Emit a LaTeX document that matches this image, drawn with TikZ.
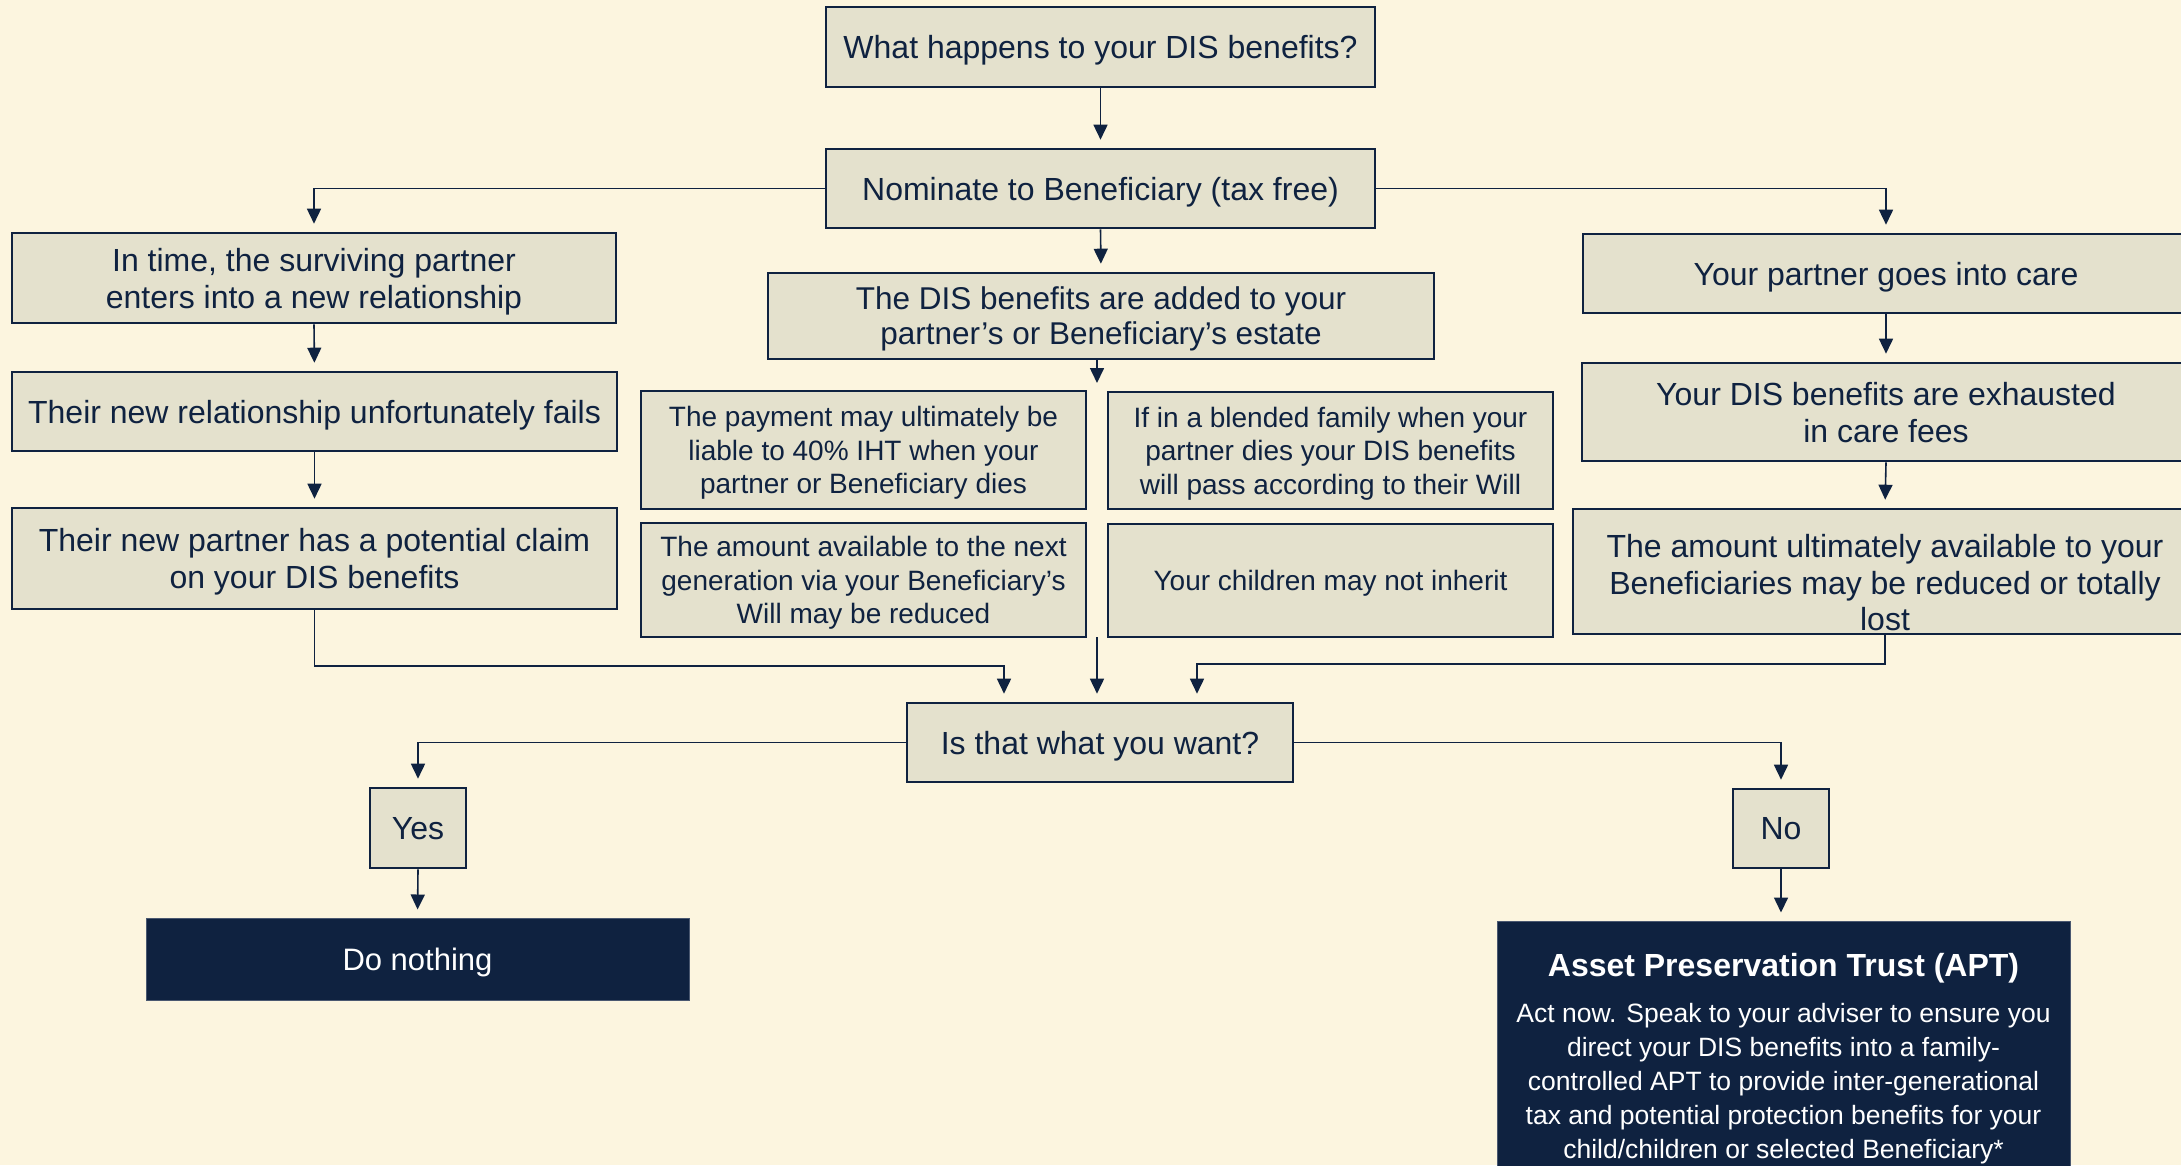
\documentclass[tikz,border=0pt]{standalone}
\usepackage{fontspec}
\setmainfont{Liberation Sans}
\usetikzlibrary{arrows.meta,calc}
\definecolor{bg}{HTML}{FCF5DF}
\definecolor{boxfill}{HTML}{E4E1CD}
\definecolor{navy}{HTML}{0F2240}
\definecolor{edge}{HTML}{4A5870}
\begin{document}
\begin{tikzpicture}[x=1pt,y=-1pt,
  box/.style={draw=navy, line width=2.6pt, fill=boxfill, text=navy, align=center, inner sep=0pt,
    text depth=0pt, font=\fontsize{32}{37}\selectfont},
  sbox/.style={box, font=\fontsize{28}{33.5}\selectfont},
  dark/.style={fill=navy, draw=edge, line width=1pt, text=white, align=center, inner sep=0pt, text depth=0pt},
  txt/.style={text=navy, align=center, inner sep=0pt},
  arr/.style={draw=navy, line width=1.6pt, -{Triangle[length=15pt,width=14pt]}, shorten >=8pt},
]
\useasboundingbox (0,0) rectangle (2181,1165);
\fill[bg] (0,0) rectangle (2181,1165);

% top
\node[box, minimum width=549pt, minimum height=80pt] (q1) at (1100.5,47) {What happens to your DIS benefits?};
\node[box, minimum width=549pt, minimum height=79pt] (nom) at (1100.5,188.5) {Nominate to Beneficiary (tax free)};

% left column
\node[box, minimum width=604pt, minimum height=90pt] (l1) at (314,278) {In time, the surviving partner\\enters into a new relationship};
\node[box, minimum width=605pt, minimum height=79pt] (l2) at (314.5,411.5) {Their new relationship unfortunately fails};
\node[box, minimum width=605pt, minimum height=101pt] (l3) at (314.5,558.5) {Their new partner has a potential claim\\on your DIS benefits};

% middle column
\node[box, minimum width=666pt, minimum height=86pt, font=\fontsize{31.5}{35}\selectfont] (m1) at (1101,316) {The DIS benefits are added to your\\partner’s or Beneficiary’s estate};
\node[sbox, minimum width=445pt, minimum height=118pt] (m2) at (863.5,450) {The payment may ultimately be\\liable to 40\% IHT when your\\partner or Beneficiary dies};
\node[sbox, minimum width=445pt, minimum height=117pt] (m3) at (1330.5,450.5) {If in a blended family when your\\partner dies your DIS benefits\\will pass according to their Will};
\node[sbox, minimum width=445pt, minimum height=114pt] (m4) at (863.5,580) {The amount available to the next\\generation via your Beneficiary’s\\Will may be reduced};
\node[sbox, minimum width=445pt, minimum height=113pt] (m5) at (1330.5,580.5) {Your children may not inherit};
\coordinate (mtop) at (1097,391);
\coordinate (mbot) at (1097,637);

% right column
\node[box, minimum width=606pt, minimum height=79pt] (r1) at (1886,273.5) {Your partner goes into care};
\node[box, minimum width=608pt, minimum height=98pt] (r2) at (1886,412) {Your DIS benefits are exhausted\\in care fees};
\node[box, minimum width=624pt, minimum height=125pt] (r3) at (1885,571.5) {};
\node[txt, font=\fontsize{32}{36.5}\selectfont] (r3t) at (1885,583) {The amount ultimately available to your\\Beneficiaries may be reduced or totally\\lost};

% decision
\node[box, minimum width=386pt, minimum height=79pt] (q2) at (1100,742.5) {Is that what you want?};
\node[box, minimum width=96pt, minimum height=80pt] (yes) at (418,828) {Yes};
\node[box, minimum width=96pt, minimum height=79pt] (no) at (1781,828.5) {No};

% outcomes
\node[dark, minimum width=543pt, minimum height=82pt, font=\fontsize{31}{36}\selectfont] (dn) at (417.5,959) {Do nothing};
\node[dark, minimum width=573pt, minimum height=269pt] (apt) at (1783.5,1055.5) {};
\node[align=center, text=white, inner sep=0pt, font=\fontsize{32}{37}\selectfont\bfseries] (aptT) at (1783.5,968.5) {Asset Preservation Trust (APT)};
\node[align=center, text=white, inner sep=0pt, font=\fontsize{26.5}{34}\selectfont] (aptB) at (1783.5,1083.5) {Act now. Speak to your adviser to ensure you\\direct your DIS benefits into a family-\\controlled APT to provide inter-generational\\tax and potential protection benefits for your\\child/children or selected Beneficiary*};

% connectors
\coordinate (c1) at (1004,666);
\coordinate (c2) at (1197,664);
\draw[arr] (q1.south) -- (nom.north);
\draw[arr] (nom.west) -| (l1.north);
\draw[arr] (nom.east) -| (r1.north);
\draw[arr] (nom.south) -- (m1.north);
\draw[arr] (l1.south) -- (l2.north);
\draw[arr] (l2.south) -- (l3.north);
\draw[arr] (r1.south) -- (r2.north);
\draw[arr] (r2.south) -- (r3.north);
\draw[arr] (m1.south -| mtop) -- (mtop);
\draw[arr] (mbot) -- (mbot |- q2.north);
\draw[arr] (l3.south) |- (c1) -- (c1 |- q2.north);
\draw[arr] (r3.south) |- (c2) -- (c2 |- q2.north);
\draw[arr] (q2.west) -| (yes.north);
\draw[arr] (q2.east) -| (no.north);
\draw[arr] (yes.south) -- (dn.north);
\draw[arr] (no.south) -- (no.south |- apt.north);
\end{tikzpicture}
\end{document}
